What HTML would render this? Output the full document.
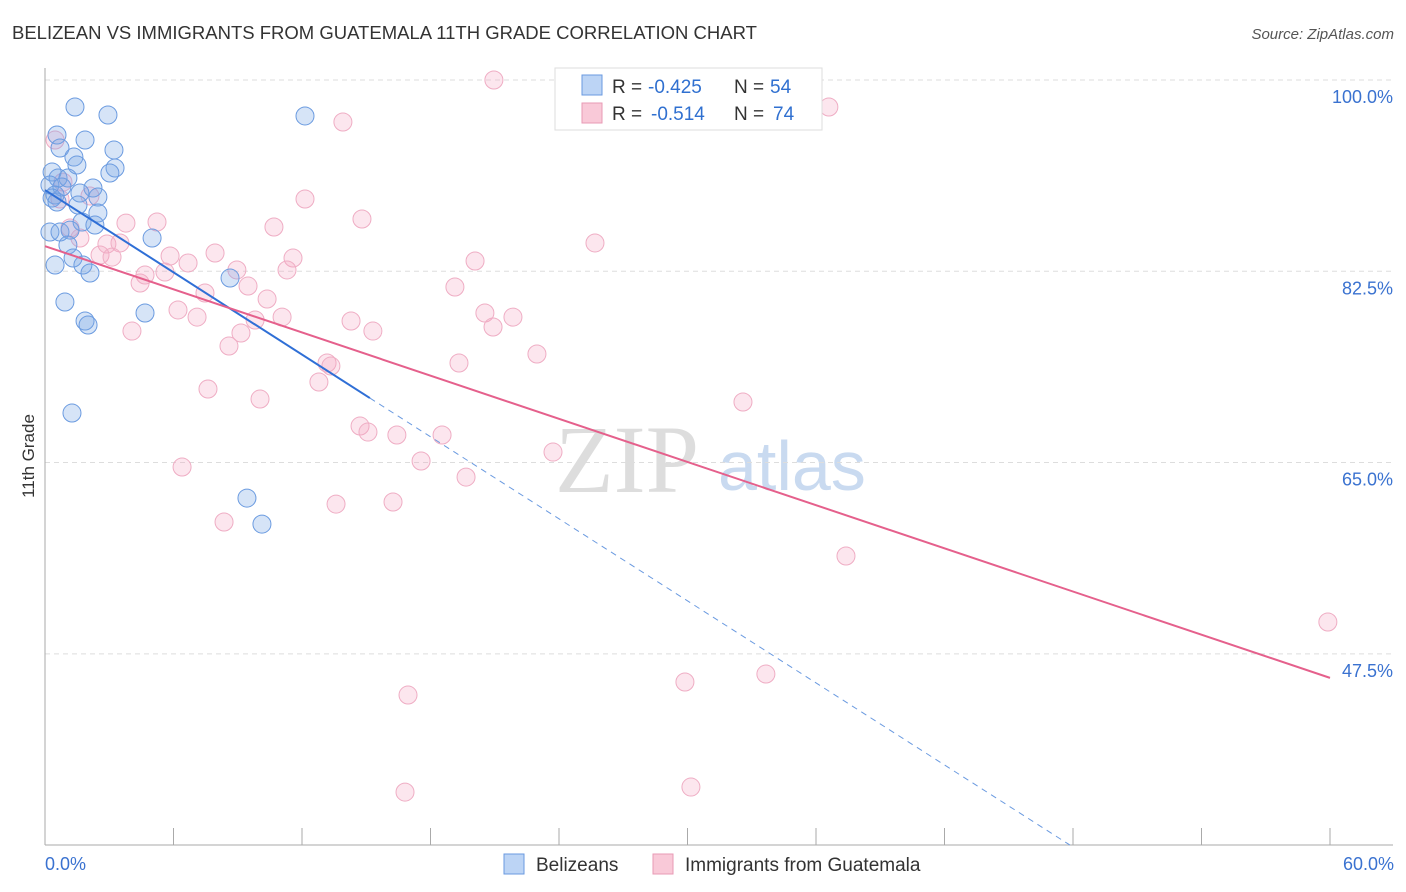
<!DOCTYPE html>
<html><head><meta charset="utf-8"><style>
html,body{margin:0;background:#fff;font-family:"Liberation Sans",sans-serif;overflow:hidden;width:1406px;height:892px;}
svg{display:block}
</style></head><body>
<svg id="c" width="1406" height="892" xmlns="http://www.w3.org/2000/svg">
<text x="12" y="39" font-size="18.5" fill="#333">BELIZEAN VS IMMIGRANTS FROM GUATEMALA 11TH GRADE CORRELATION CHART</text>
<text x="1394" y="39" font-size="15" fill="#555" font-style="italic" text-anchor="end">Source: ZipAtlas.com</text>
<text x="0" y="0" transform="translate(34,456) rotate(-90)" font-size="17" fill="#333" text-anchor="middle">11th Grade</text>
<g><text x="555" y="492" font-size="96" fill="#ddd" font-family="Liberation Serif,serif">ZIP</text><text x="718" y="490" font-size="70" fill="#c9daf0">atlas</text></g>
<g id="grid"></g><g id="pts"></g><g id="lines"></g>
<g>
<rect x="555" y="68" width="267" height="62" fill="#fff" stroke="#ddd"/>
<rect x="582" y="75" width="20" height="20" fill="#bcd4f5" stroke="#6a9ae0"/>
<text x="612" y="93" font-size="19" fill="#333">R =</text>
<text x="648" y="93" font-size="19" fill="#3070d0">-0.425</text>
<text x="734" y="93" font-size="19" fill="#333">N =</text>
<text x="770" y="93" font-size="19" fill="#3070d0">54</text>
<rect x="582" y="103" width="20" height="20" fill="#f9c9d8" stroke="#e89ab5"/>
<text x="612" y="120" font-size="19" fill="#333">R =</text>
<text x="651" y="120" font-size="19" fill="#3070d0">-0.514</text>
<text x="734" y="120" font-size="19" fill="#333">N =</text>
<text x="773" y="120" font-size="19" fill="#3070d0">74</text>
</g>
<g>
<rect x="504" y="854" width="20" height="20" fill="#bcd4f5" stroke="#6a9ae0"/>
<text x="536" y="871" font-size="19" fill="#333">Belizeans</text>
<rect x="653" y="854" width="20" height="20" fill="#f9c9d8" stroke="#e89ab5"/>
<text x="685" y="871" font-size="19" fill="#333">Immigrants from Guatemala</text>
</g>
</svg>
<script>
const yTicks=[100,82.5,65,47.5];
const yTickLabels=["100.0%","82.5%","65.0%","47.5%"];
const xTicks=[0,6,12,18,24,30,36,42,48,54,60];
const belizeX=[1.40,2.94,12.14,0.56,1.87,0.70,3.22,1.35,1.49,3.27,3.03,0.33,0.61,1.07,0.23,0.79,2.24,0.47,1.63,2.47,0.33,0.56,1.54,2.47,1.73,2.33,0.23,0.70,1.17,5.00,1.07,1.31,0.47,1.77,2.10,8.64,0.93,4.67,1.87,2.01,1.26,9.43,10.13];
const belizeY=[97.53,96.80,96.71,94.97,94.51,93.78,93.60,92.95,92.22,91.95,91.49,91.58,91.03,91.03,90.39,90.21,90.12,89.48,89.66,89.29,89.20,88.84,88.56,87.83,87.01,86.73,86.09,86.09,86.27,85.54,84.90,83.71,83.07,83.07,82.34,81.88,79.69,78.68,77.95,77.58,69.53,61.75,59.37];
const guatX=[20.96,36.60,13.91,0.47,12.14,14.80,3.78,5.23,10.69,1.17,25.68,2.89,3.50,1.63,7.94,5.84,11.58,20.08,2.57,3.13,4.44,4.67,6.68,8.96,11.30,5.60,19.14,7.47,9.48,10.37,6.21,7.10,11.07,9.81,20.54,21.85,20.92,14.29,15.31,4.06,9.15,8.59,22.97,13.17,13.35,19.33,12.79,7.61,10.04,32.59,14.71,15.08,16.43,18.54,23.72,17.56,6.40,19.66,8.36,13.59,16.25,37.40,59.90,16.95,29.88,33.66,16.81,30.16,0.70,2.10,0.84];
const guatY=[100.0,97.53,96.16,94.51,89.11,87.28,86.91,87.01,86.55,86.46,85.09,84.99,85.09,85.54,84.17,83.90,83.71,83.44,83.99,83.80,81.43,82.16,83.26,82.62,82.62,82.43,81.06,80.51,81.15,79.96,78.96,78.31,78.31,78.04,78.68,78.31,77.40,77.95,77.03,77.03,76.85,75.66,74.93,74.11,73.83,74.11,72.37,71.73,70.81,70.54,68.34,67.79,67.52,67.52,65.96,65.14,64.59,63.67,59.56,61.20,61.39,56.45,50.41,43.73,44.92,45.65,34.85,35.31,89.11,89.39,90.66];
const belizeTrend=[0,89.93,15.17,70.9,47.86,30];
const guatTrend=[0,84.8,60,45.3];
const X=v=>45+v/60*1285, Y=v=>80+(100-v)*10.93;
const NS="http://www.w3.org/2000/svg";
function mk(p,t,a){const e=document.createElementNS(NS,t);for(const k in a)e.setAttribute(k,a[k]);p.appendChild(e);return e;}
const g=document.getElementById('grid');
yTicks.forEach((t,i)=>{
 const l=mk(g,'line',{x1:45,x2:1393,y1:Y(t),y2:Y(t),stroke:'#ddd','stroke-dasharray':'5,4'});
 
 
 const tx=mk(g,'text',{x:1393,y:Y(t)+23,'font-size':18,fill:'#3a72d0','text-anchor':'end'});tx.textContent=yTickLabels[i];
 
 
});
const ax=mk(g,'line',{x1:45,x2:1393,y1:845,y2:845,stroke:'#aaa'});


const ay=mk(g,'line',{x1:45,x2:45,y1:68,y2:845,stroke:'#aaa'});


xTicks.forEach(t=>{const l=mk(g,'line',{x1:X(t),x2:X(t),y1:828,y2:845,stroke:'#aaa'});
 
 });
const t0=mk(g,'text',{x:45,y:870,'font-size':18,fill:'#3a72d0'});t0.textContent='0.0%';


const t1=mk(g,'text',{x:1394,y:870,'font-size':18,fill:'#3a72d0','text-anchor':'end'});t1.textContent='60.0%';


const p=document.getElementById('pts');
guatX.forEach((x,i)=>{const c=mk(p,'circle',{cx:X(x),cy:Y(guatY[i]),r:9,fill:'rgba(245,165,195,0.28)',stroke:'#efadc4','stroke-width':1});
 
 });
belizeX.forEach((x,i)=>{const c=mk(p,'circle',{cx:X(x),cy:Y(belizeY[i]),r:9,fill:'rgba(120,165,230,0.3)',stroke:'#6b9be0','stroke-width':1});
 
 });
const L=document.getElementById('lines');
const b1=mk(L,'line',{x1:X(belizeTrend[0]),y1:Y(belizeTrend[1]),x2:X(belizeTrend[2]),y2:Y(belizeTrend[3]),stroke:'#2f6fd6','stroke-width':2});


const b2=mk(L,'line',{x1:X(belizeTrend[2]),y1:Y(belizeTrend[3]),x2:X(belizeTrend[4]),y2:Y(belizeTrend[5]),stroke:'#6a9ae0','stroke-width':1,'stroke-dasharray':'6,5'});


const g1=mk(L,'line',{x1:X(guatTrend[0]),y1:Y(guatTrend[1]),x2:X(guatTrend[2]),y2:Y(guatTrend[3]),stroke:'#e5608c','stroke-width':2});


</script>
</body></html>
